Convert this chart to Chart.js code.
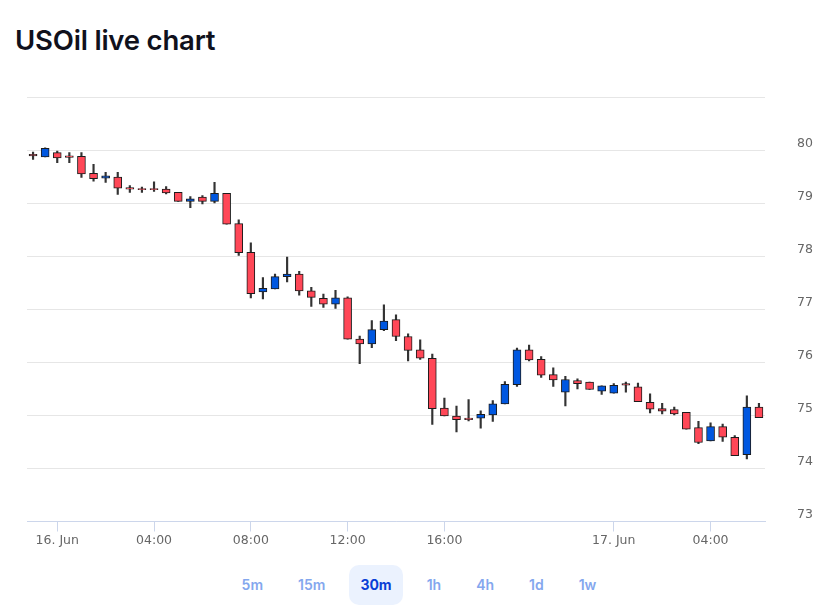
<!DOCTYPE html>
<html>
<head>
<meta charset="utf-8">
<script src="https://cdn.jsdelivr.net/npm/chart.js@4.4.1/dist/chart.umd.min.js"></script>
<style>
  body { margin: 0; background: #fff; width: 838px; height: 614px; overflow: hidden; position: relative; }
  h1 { position: absolute; left: 15px; top: 23px; margin: 0; font-family: Inter, sans-serif; font-weight: 600; font-size: 27.5px; color: #10111c; letter-spacing: -0.2px; }
  .wrap { position: absolute; left: 0; top: 58px; width: 838px; height: 503px; }
  .ranges { position: absolute; left: 0; top: 565px; width: 838px; height: 40px; display: flex; justify-content: center; align-items: center; }
  .ranges span { font-family: Inter, sans-serif; font-weight: 600; font-size: 14px; color: #84a7ee; padding: 0 11px; margin: 0 6.5px; height: 40px; line-height: 40px; border-radius: 10px; }
  .ranges span.on { color: #0a3fd6; background: #ebf2fe; font-weight: 700; }
</style>
</head>
<body>
<h1>USOil live chart</h1>
<div class="wrap"><canvas id="oil"></canvas></div>
<div class="ranges">
  <span>5m</span><span>15m</span><span class="on">30m</span><span>1h</span><span>4h</span><span>1d</span><span>1w</span>
</div>
<script>
// 30 minute candles, 15 Jun 23:00 .. 17 Jun 06:00 (1h break 22:00-23:00)
var times = [
  '15 23:00','15 23:30',
  '16 00:00','16 00:30','16 01:00','16 01:30','16 02:00','16 02:30','16 03:00','16 03:30',
  '16 04:00','16 04:30','16 05:00','16 05:30','16 06:00','16 06:30','16 07:00','16 07:30',
  '16 08:00','16 08:30','16 09:00','16 09:30','16 10:00','16 10:30','16 11:00','16 11:30',
  '16 12:00','16 12:30','16 13:00','16 13:30','16 14:00','16 14:30','16 15:00','16 15:30',
  '16 16:00','16 16:30','16 17:00','16 17:30','16 18:00','16 18:30','16 19:00','16 19:30',
  '16 20:00','16 20:30','16 21:00','16 21:30','16 23:00','16 23:30',
  '17 00:00','17 00:30','17 01:00','17 01:30','17 02:00','17 02:30','17 03:00','17 03:30',
  '17 04:00','17 04:30','17 05:00','17 05:30','17 06:00'
];

var open = [
  79.93, 79.88, 79.96, 79.90, 79.89, 79.57, 79.48, 79.50, 79.30, 79.28,
  79.28, 79.27, 79.21, 79.04, 79.12, 79.04, 79.19, 78.62, 78.08, 77.33,
  77.39, 77.62, 77.67, 77.35, 77.21, 77.10, 77.22, 76.44, 76.35, 76.62,
  76.81, 76.49, 76.24, 76.08, 75.14, 74.99, 74.95, 74.95, 75.01, 75.22,
  75.58, 76.24, 76.06, 75.77, 75.44, 75.66, 75.63, 75.46, 75.42, 75.60,
  75.54, 75.25, 75.13, 75.11, 75.06, 74.77, 74.52, 74.79, 74.59, 74.26,
  75.16
];
var high = [
  79.97, 80.05, 79.99, 79.96, 79.96, 79.74, 79.59, 79.59, 79.34, 79.31,
  79.41, 79.32, 79.21, 79.13, 79.15, 79.40, 79.19, 78.69, 78.26, 77.60,
  77.67, 77.99, 77.72, 77.42, 77.29, 77.36, 77.24, 76.50, 76.79, 77.09,
  76.90, 76.54, 76.43, 76.16, 75.33, 75.18, 75.30, 75.09, 75.28, 75.64,
  76.27, 76.33, 76.11, 75.90, 75.74, 75.69, 75.63, 75.56, 75.60, 75.63,
  75.61, 75.41, 75.23, 75.16, 75.06, 74.89, 74.86, 74.84, 74.62, 75.37,
  75.23
];
var low = [
  79.83, 79.88, 79.77, 79.77, 79.49, 79.42, 79.40, 79.17, 79.21, 79.21,
  79.23, 79.18, 79.04, 78.92, 78.99, 79.01, 78.61, 78.02, 77.22, 77.20,
  77.39, 77.52, 77.27, 77.06, 77.04, 77.02, 76.44, 75.98, 76.28, 76.60,
  76.41, 76.03, 76.06, 74.83, 74.99, 74.69, 74.90, 74.76, 74.89, 75.22,
  75.55, 76.03, 75.72, 75.55, 75.18, 75.50, 75.49, 75.40, 75.42, 75.44,
  75.26, 75.05, 75.03, 75.01, 74.74, 74.47, 74.52, 74.51, 74.24, 74.18,
  74.96
];
var close = [
  79.90, 80.04, 79.86, 79.87, 79.56, 79.47, 79.52, 79.29, 79.27, 79.26,
  79.26, 79.20, 79.04, 79.09, 79.04, 79.19, 78.61, 78.07, 77.30, 77.40,
  77.62, 77.67, 77.35, 77.23, 77.10, 77.22, 76.44, 76.35, 76.62, 76.78,
  76.49, 76.23, 76.08, 75.13, 74.99, 74.92, 74.92, 75.02, 75.22, 75.59,
  76.24, 76.05, 75.76, 75.67, 75.68, 75.60, 75.49, 75.56, 75.57, 75.57,
  75.26, 75.12, 75.08, 75.03, 74.74, 74.49, 74.79, 74.59, 74.24, 75.16,
  74.96
];

var xTickLabels = {
  '16 00:00': '16. Jun', '16 04:00': '04:00', '16 08:00': '08:00', '16 12:00': '12:00',
  '16 16:00': '16:00', '17 00:00': '17. Jun', '17 04:00': '04:00'
};
var yMin = 73, yMax = 81;

var upColor = '#0057e0', downColor = '#ff4757';
var colors = close.map(function(c, i) { return c >= open[i] ? upColor : downColor; });

var labelFont = { family: "'DejaVu Sans', sans-serif", size: 12.5 };

new Chart(document.getElementById('oil'), {
  type: 'bar',
  data: {
    labels: times,
    datasets: [{
      data: open.map(function(o, i) { return [o, close[i]]; }),
      backgroundColor: colors,
      borderColor: '#1c1c1c',
      borderWidth: 1,
      borderSkipped: false,
      barThickness: 8,
      grouped: false,
      order: 1
    }, {
      data: low.map(function(l, i) { return [l, high[i]]; }),
      backgroundColor: '#333',
      borderWidth: 0,
      barThickness: 1.5,
      grouped: false,
      order: 2
    }]
  },
  options: {
    responsive: true,
    maintainAspectRatio: false,
    animation: false,
    layout: { padding: { left: 27, right: 0, top: 30, bottom: 5 } },
    plugins: { legend: { display: false }, tooltip: { enabled: false } },
    scales: {
      x: {
        offset: true,
        grid: {
          offset: false, drawOnChartArea: false, drawTicks: true, tickLength: 10,
          tickColor: function(ctx) { return xTickLabels[times[ctx.index]] ? '#ccd6eb' : 'rgba(0,0,0,0)'; }
        },
        border: { color: '#ccd6eb', width: 1 },
        ticks: {
          autoSkip: false, maxRotation: 0, padding: 2,
          color: '#666', font: labelFont,
          callback: function(v) { return xTickLabels[times[v]] || ''; }
        }
      },
      y: {
        position: 'right',
        min: yMin, max: yMax,
        // right axis: keep labels 32px off the plot but only 73px wide in total
        afterFit: function(s) { s.width = 73; },
        grid: { color: '#e6e6e6', drawTicks: false },
        border: { display: false },
        ticks: {
          stepSize: 1, padding: 32, labelOffset: -7,
          color: '#666', font: labelFont,
          callback: function(v) { return v === yMax ? '' : v; }
        }
      }
    }
  }
});
</script>
</body>
</html>
